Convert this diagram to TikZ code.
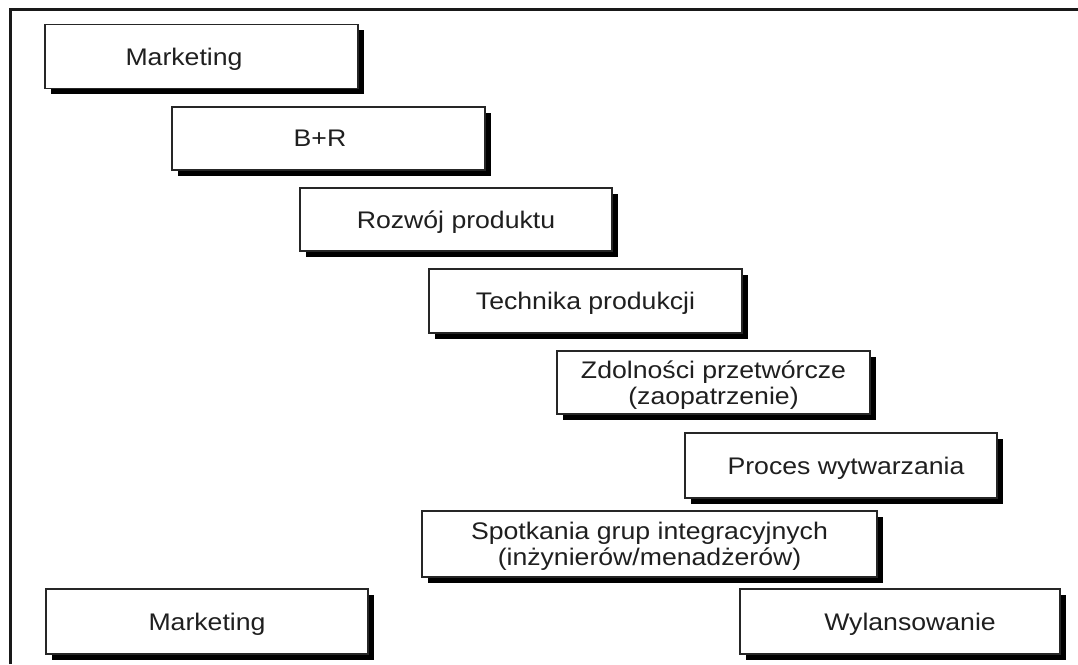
\documentclass[tikz,border=0pt]{standalone}
\usepackage{fontspec}
\setmainfont{Liberation Sans}[FakeStretch=1.11]
\usetikzlibrary{shadows}
\tikzset{
  phase/.style={draw=black!85, line width=1.8pt, fill=white, inner sep=0pt,
    align=center, font=\fontsize{24}{26}\selectfont, text=black!88,
    text depth=0pt,
    drop shadow={shadow xshift=5.5pt, shadow yshift=-5.5pt, fill=black, opacity=1}},
  frameline/.style={line width=3pt, draw=black!90}
}
\begin{document}
\begin{tikzpicture}[x=1pt,y=-1pt]
  \useasboundingbox (0,0) rectangle (1078,664);
  % open frame: left and top edge only
  \draw[frameline] (10.5,664) -- (10.5,9) -- (1078,9);

  \node[phase, minimum width=313pt, minimum height=64pt] (mkt1) at (201.5,56.5) {\kern-35pt Marketing};
  \node[phase, minimum width=313pt, minimum height=63pt] (br) at (328.5,138.5) {\kern-17pt B+R};
  \node[phase, minimum width=312pt, minimum height=63pt] (roz) at (456,219.5) {Rozwój produktu};
  \node[phase, minimum width=313pt, minimum height=64pt] (tech) at (585.5,301) {Technika produkcji};
  \node[phase, minimum width=313pt, minimum height=63pt] (zdol) at (713.5,382.5) {Zdolności przetwórcze\\(zaopatrzenie)};
  \node[phase, minimum width=312pt, minimum height=65pt] (proc) at (841,465.5) {\kern10pt Proces wytwarzania};
  \node[phase, minimum width=455pt, minimum height=66pt] (spot) at (649.5,544) {Spotkania grup integracyjnych\\(inżynierów/menadżerów)};
  \node[phase, minimum width=322pt, minimum height=65pt] (mkt2) at (207,621.5) {Marketing};
  \node[phase, minimum width=320pt, minimum height=65pt] (wyl) at (900,621.5) {\kern20pt Wylansowanie};
\end{tikzpicture}
\end{document}
